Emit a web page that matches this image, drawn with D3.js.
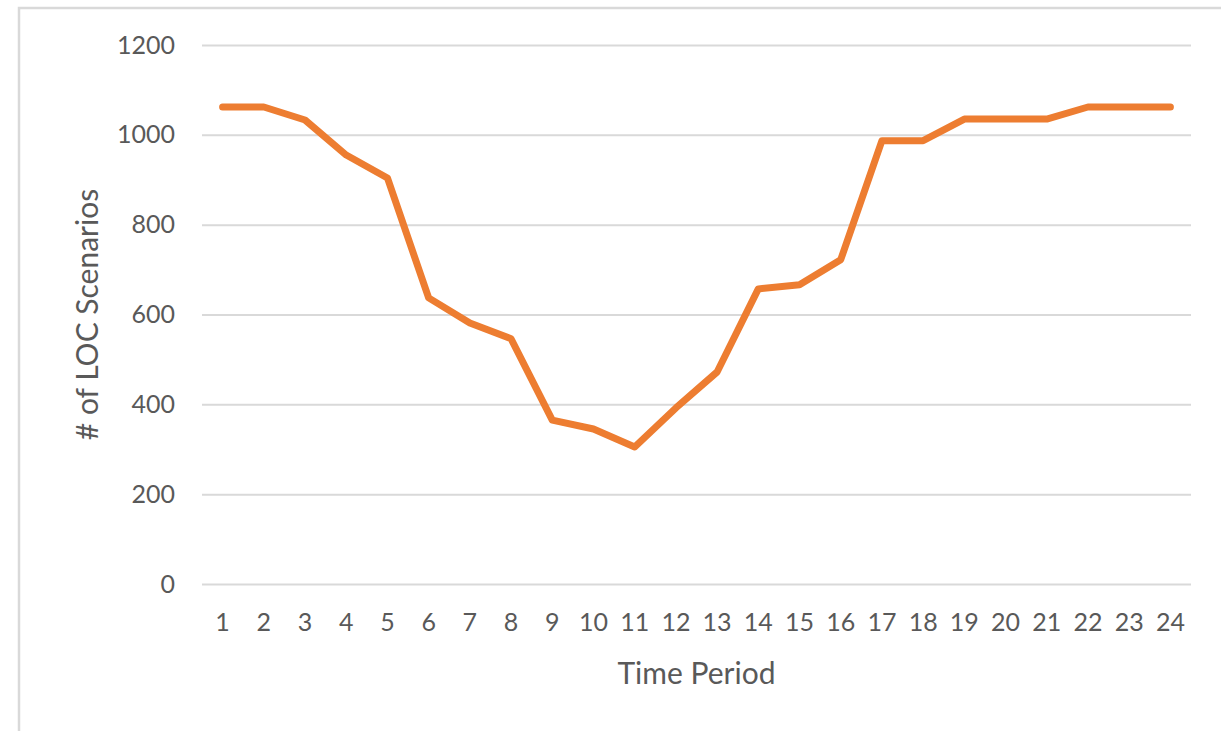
<!DOCTYPE html>
<html><head><meta charset="utf-8">
<script src="https://cdn.jsdelivr.net/npm/d3@7"></script>
<style>body{margin:0;background:#fff}svg{display:block}</style>
</head><body>
<svg id="c" width="1221" height="731"></svg>
<script>
const periods = d3.range(1, 25).map(String);
const scenarios = [1062, 1062, 1033, 955, 904, 637, 581, 546, 365, 345, 305, 392, 472, 657, 666, 722, 987, 987, 1035, 1035, 1035, 1062, 1062, 1062];
const yTicks = [0, 200, 400, 600, 800, 1000, 1200];

const svg = d3.select("#c");
const font = "Lato, 'Open Sans', sans-serif";
svg.append("rect").attr("x", 19).attr("y", 8).attr("width", 1230).attr("height", 760)
  .attr("fill", "#fff").attr("stroke", "#d9d9d9").attr("stroke-width", 2.5);

const mLeft = 202, mRight = 1191, mTop = 45, mBottom = 584;
const x = d3.scaleBand().domain(periods).range([mLeft, mRight]);
const y = d3.scaleLinear().domain([0, 1200]).range([mBottom, mTop]);

const ya = svg.append("g").attr("transform", `translate(${mLeft},0)`)
  .call(d3.axisLeft(y).tickValues(yTicks).tickFormat(d3.format("d")).tickSize(-(mRight - mLeft)).tickPadding(27));
ya.select(".domain").remove();
ya.selectAll(".tick line").attr("stroke", "#d9d9d9").attr("stroke-width", 2);
ya.selectAll(".tick text").attr("fill", "#595959").style("font-family", font).style("font-size", "25px");

const xa = svg.append("g").attr("transform", `translate(0,${mBottom})`)
  .call(d3.axisBottom(x).tickSize(0).tickPadding(29));
xa.select(".domain").remove();
xa.selectAll(".tick text").attr("fill", "#595959").style("font-family", font).style("font-size", "25px");

const line = d3.line().x((d, i) => x(periods[i]) + x.bandwidth() / 2).y(d => y(d));
svg.append("path").datum(scenarios).attr("d", line).attr("fill", "none")
  .attr("stroke", "#ED7D31").attr("stroke-width", 7).attr("stroke-linejoin", "round").attr("stroke-linecap", "round");

svg.append("text").attr("x", (mLeft + mRight) / 2).attr("y", 684).attr("text-anchor", "middle")
  .attr("fill", "#595959").style("font-family", font).style("font-size", "30px").text("Time Period");
svg.append("text").attr("transform", `translate(98,${(mTop + mBottom) / 2}) rotate(-90)`).attr("text-anchor", "middle")
  .attr("fill", "#595959").style("font-family", font).style("font-size", "30px").text("# of LOC Scenarios");
</script>
</body></html>
